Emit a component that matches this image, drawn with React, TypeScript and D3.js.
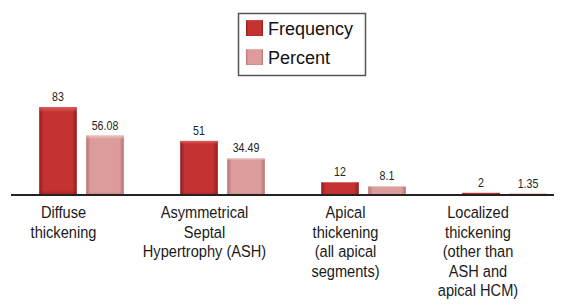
import React from "react";
import { scaleBand, scaleLinear } from "d3";

// categories and series
const categories = ["diffuse", "ash", "apical", "localized"];
const categoryLines = [
    ["Diffuse", "thickening"],
    ["Asymmetrical", "Septal", "Hypertrophy (ASH)"],
    ["Apical", "thickening", "(all apical", "segments)"],
    ["Localized", "thickening", "(other than", "ASH and", "apical HCM)"],
];
const seriesNames = ["Frequency", "Percent"];
const frequency = [83, 51, 12, 2];
const percent = [56.08, 34.49, 8.1, 1.35];
const valueLabels = [
    ["83", "51", "12", "2"],
    ["56.08", "34.49", "8.1", "1.35"],
];

const W = 562;
const H = 307;
const baseY = 195;
const font = "'Liberation Sans', Arial, sans-serif";

const colors = {
    Frequency: { edge: "#8f1c1c", mid: "#c53232", top: "#e06262" },
    Percent: { edge: "#b87272", mid: "#dd9c9c", top: "#f2c6c6" },
};

export default function App() {
    const series = [frequency, percent];

    const x0 = scaleBand<string>()
        .domain(categories)
        .range([11, 575])
        .paddingInner(0.4)
        .paddingOuter(0.2);

    const x1 = scaleBand<string>()
        .domain(seriesNames)
        .range([0, x0.bandwidth()])
        .paddingInner(0.2);

    const y = scaleLinear().domain([0, 83]).range([baseY, 107]);

    return (
        <svg width={W} height={H} style={{ display: "block", margin: -8 }}>
            <defs>
                {seriesNames.map((s, i) => {
                    const c = colors[s];
                    return (
                        <React.Fragment key={s}>
                            <linearGradient id={`h${i}`} x1="0" x2="1" y1="0" y2="0">
                                <stop offset="0" stopColor={c.edge} />
                                <stop offset="0.12" stopColor={c.mid} />
                                <stop offset="0.88" stopColor={c.mid} />
                                <stop offset="1" stopColor={c.edge} />
                            </linearGradient>
                            <linearGradient id={`v${i}`} x1="0" x2="0" y1="0" y2="1">
                                <stop offset="0" stopColor={c.top} stopOpacity="0.9" />
                                <stop offset="0.06" stopColor={c.top} stopOpacity="0" />
                                <stop offset="0.94" stopColor={c.edge} stopOpacity="0" />
                                <stop offset="1" stopColor={c.edge} stopOpacity="0.6" />
                            </linearGradient>
                        </React.Fragment>
                    );
                })}
            </defs>

            {/* legend */}
            <rect x={238.5} y={13.5} width={127} height={62} fill="#fff" stroke="#555" strokeWidth={1.5} />
            {seriesNames.map((s, i) => (
                <g key={s} transform={`translate(246, ${20 + i * 29})`}>
                    <rect width={17} height={16} fill={`url(#h${i})`} />
                    <rect width={17} height={16} fill={`url(#v${i})`} />
                    <text x={22} y={15} fontFamily={font} fontSize={18} fill="#111">{s}</text>
                </g>
            ))}

            {/* bars */}
            {categories.map((cat, ci) => (
                <g key={cat} transform={`translate(${x0(cat)}, 0)`}>
                    {seriesNames.map((s, si) => {
                        const v = series[si][ci];
                        const bx = x1(s);
                        const bw = x1.bandwidth();
                        const top = y(v);
                        const h = baseY - top;
                        return (
                            <g key={s}>
                                <rect x={bx} y={top} width={bw} height={h} fill={`url(#h${si})`} />
                                <rect x={bx} y={top} width={bw} height={h} fill={`url(#v${si})`} />
                                <text
                                    transform={`translate(${bx + bw / 2}, ${top - 6}) scale(0.85, 1)`}
                                    textAnchor="middle"
                                    fontFamily={font}
                                    fontSize={12.5}
                                    fill="#222"
                                >
                                    {valueLabels[si][ci]}
                                </text>
                            </g>
                        );
                    })}
                </g>
            ))}

            {/* axis line */}
            <line x1={11} x2={W} y1={baseY} y2={baseY} stroke="#222" strokeWidth={2} />

            {/* category labels */}
            {categories.map((cat, ci) => {
                const cx = Math.min(x0(cat) + x0.bandwidth() / 2 - 18, 478);
                return (
                    <g key={cat}>
                        {categoryLines[ci].map((line, li) => (
                            <text
                                key={li}
                                transform={`translate(${cx}, ${218 + li * 19.5}) scale(0.86, 1)`}
                                textAnchor="middle"
                                fontFamily={font}
                                fontSize={17}
                                fill="#1a1a1a"
                            >
                                {line}
                            </text>
                        ))}
                    </g>
                );
            })}
        </svg>
    );
}
